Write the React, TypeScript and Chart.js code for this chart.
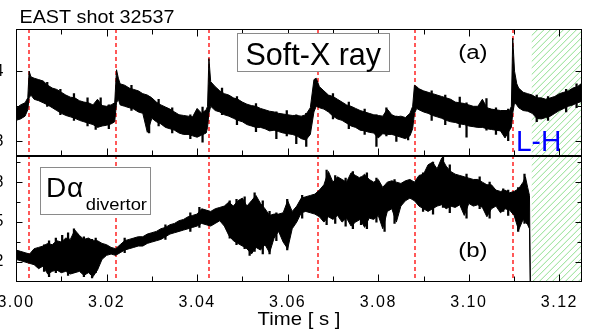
import React, { useEffect, useRef } from 'react';
import { Chart, registerables } from 'chart.js';
Chart.register(...registerables);

// ---- Soft-X ray (panel a): time [s], upper / lower envelope of the noisy trace
const sxT = [3.0000,3.0010,3.0020,3.0026,3.0029,3.0033,3.0040,3.0050,3.0060,3.0070,3.0080,3.0090,3.0100,3.0110,3.0120,3.0130,3.0140,3.0150,3.0160,3.0170,3.0180,3.0190,3.0200,3.0210,3.0218,3.0222,3.0226,3.0230,3.0240,3.0250,3.0260,3.0270,3.0280,3.0290,3.0300,3.0310,3.0320,3.0330,3.0340,3.0350,3.0360,3.0370,3.0380,3.0390,3.0400,3.0410,3.0420,3.0423,3.0426,3.0430,3.0440,3.0450,3.0460,3.0470,3.0480,3.0490,3.0500,3.0510,3.0520,3.0530,3.0540,3.0550,3.0560,3.0570,3.0580,3.0590,3.0600,3.0610,3.0620,3.0630,3.0640,3.0650,3.0658,3.0663,3.0670,3.0680,3.0690,3.0700,3.0710,3.0720,3.0730,3.0740,3.0750,3.0760,3.0770,3.0780,3.0790,3.0800,3.0810,3.0820,3.0830,3.0840,3.0850,3.0860,3.0870,3.0876,3.0880,3.0885,3.0890,3.0900,3.0910,3.0920,3.0930,3.0940,3.0950,3.0960,3.0970,3.0980,3.0990,3.1000,3.1010,3.1020,3.1030,3.1040,3.1050,3.1060,3.1070,3.1080,3.1090,3.1094,3.1097,3.1101,3.1106,3.1110,3.1120,3.1130,3.1140,3.1150,3.1160,3.1170,3.1180,3.1190,3.1200,3.1210,3.1220,3.1230,3.1240,3.1250];
const sxHi = [3.47,3.52,3.55,3.62,4.00,3.92,3.90,3.88,3.86,3.80,3.76,3.74,3.70,3.66,3.63,3.62,3.58,3.56,3.55,3.52,3.60,3.51,3.50,3.52,3.55,4.02,3.90,3.82,3.80,3.76,3.74,3.72,3.68,3.66,3.62,3.56,3.52,3.49,3.46,3.42,3.38,3.37,3.36,3.35,3.47,3.40,3.45,3.50,4.18,3.85,3.78,3.72,3.68,3.66,3.62,3.60,3.56,3.53,3.51,3.50,3.47,3.45,3.43,3.42,3.40,3.39,3.38,3.37,3.37,3.36,3.38,3.48,3.88,3.90,3.78,3.72,3.66,3.64,3.60,3.56,3.52,3.50,3.47,3.44,3.42,3.40,3.38,3.37,3.36,3.46,3.38,3.35,3.36,3.34,3.40,3.50,3.80,3.78,3.75,3.72,3.70,3.68,3.66,3.64,3.62,3.60,3.56,3.55,3.54,3.52,3.50,3.50,3.60,3.48,3.46,3.45,3.44,3.44,3.44,3.50,4.47,4.00,3.82,3.76,3.70,3.68,3.66,3.62,3.62,3.60,3.62,3.64,3.68,3.70,3.72,3.76,3.78,3.83];
const sxLo = [3.30,3.32,3.36,3.45,3.62,3.66,3.60,3.58,3.55,3.52,3.48,3.44,3.40,3.37,3.35,3.33,3.30,3.28,3.26,3.24,3.20,3.22,3.23,3.25,3.28,3.55,3.60,3.52,3.50,3.48,3.46,3.42,3.40,3.13,3.33,3.28,3.25,3.20,3.18,3.16,3.12,3.10,3.10,3.08,3.06,3.09,3.12,3.20,3.40,3.50,3.44,3.42,3.38,3.36,3.33,3.30,3.28,3.24,3.22,3.20,3.20,3.18,3.15,3.16,3.14,3.12,3.11,3.10,3.08,3.04,3.02,3.10,3.42,3.50,3.48,3.46,3.42,3.36,3.32,3.30,3.26,3.22,3.20,3.16,3.15,3.13,3.12,3.05,3.11,3.10,3.10,3.08,3.06,3.04,3.08,3.18,3.40,3.47,3.45,3.42,3.40,3.37,3.35,3.33,3.30,3.28,3.27,3.25,3.24,3.22,3.21,3.20,3.20,3.18,3.17,3.16,3.15,3.05,3.16,3.20,3.40,3.55,3.52,3.48,3.44,3.43,3.40,3.33,3.32,3.34,3.36,3.40,3.44,3.47,3.50,3.52,3.55,3.57];
// isolated noise needles of the Soft-X trace: time, lower end, upper end
const sxNeedleT = [3.0069,3.0098,3.0128,3.0158,3.0176,3.0187,3.0205,3.0255,3.0294,3.0315,3.0345,3.0385,3.0412,3.0455,3.0488,3.0530,3.0575,3.0598,3.0619,3.0641,3.0700,3.0735,3.0770,3.0796,3.0818,3.0840,3.0866,3.0918,3.0948,3.0980,3.0995,3.1039,3.1060,3.1087,3.1150,3.1175,3.1215,3.1238];
const sxNeedleLo = [3.50,3.38,3.30,3.22,3.17,3.22,3.18,3.44,3.12,3.22,3.12,3.04,2.99,3.38,3.24,3.14,3.04,3.08,2.97,2.93,3.32,3.18,3.10,2.93,3.08,3.00,3.02,3.30,3.24,3.20,3.06,3.16,3.10,3.01,3.28,3.30,3.42,3.48];
const sxNeedleHi = [3.84,3.74,3.68,3.62,3.50,3.62,3.52,3.80,3.64,3.60,3.48,3.38,3.49,3.76,3.64,3.54,3.42,3.44,3.38,3.40,3.68,3.56,3.46,3.38,3.48,3.36,3.36,3.72,3.66,3.63,3.55,3.61,3.48,3.46,3.66,3.64,3.74,3.82];

// ---- D-alpha divertor (panel b)
const daT = [3.000,3.001,3.002,3.003,3.004,3.005,3.006,3.007,3.008,3.009,3.010,3.011,3.012,3.013,3.014,3.015,3.016,3.017,3.018,3.019,3.020,3.021,3.022,3.023,3.024,3.025,3.026,3.027,3.028,3.029,3.030,3.031,3.032,3.033,3.034,3.035,3.036,3.037,3.038,3.039,3.040,3.041,3.042,3.043,3.044,3.045,3.046,3.047,3.048,3.049,3.050,3.051,3.052,3.053,3.054,3.055,3.056,3.057,3.058,3.059,3.060,3.061,3.062,3.063,3.064,3.065,3.066,3.067,3.068,3.069,3.070,3.071,3.072,3.073,3.074,3.075,3.076,3.077,3.078,3.079,3.080,3.081,3.082,3.083,3.084,3.085,3.086,3.087,3.088,3.089,3.090,3.091,3.092,3.093,3.094,3.095,3.096,3.097,3.098,3.099,3.100,3.101,3.102,3.103,3.104,3.105,3.106,3.107,3.108,3.109,3.110,3.111,3.112,3.1125,3.113,3.1134,3.1136];
const daHi = [0.29,0.28,0.27,0.26,0.30,0.31,0.32,0.34,0.33,0.36,0.35,0.38,0.37,0.44,0.40,0.37,0.38,0.36,0.36,0.34,0.33,0.31,0.30,0.33,0.36,0.37,0.38,0.39,0.39,0.41,0.42,0.43,0.45,0.46,0.48,0.49,0.51,0.52,0.54,0.55,0.56,0.60,0.59,0.58,0.60,0.61,0.62,0.65,0.62,0.66,0.68,0.62,0.66,0.70,0.64,0.60,0.55,0.56,0.56,0.57,0.66,0.58,0.62,0.68,0.69,0.70,0.71,0.74,0.78,0.88,0.80,0.84,0.82,0.80,0.87,0.85,0.83,0.86,0.82,0.80,0.82,0.76,0.80,0.81,0.80,0.79,0.81,0.82,0.80,0.85,0.86,0.93,0.95,0.90,0.98,0.92,0.88,0.86,0.85,0.84,0.83,0.82,0.82,0.80,0.78,0.78,0.74,0.73,0.74,0.72,0.73,0.75,0.80,0.84,0.76,0.70,0.00];
const daLo = [0.22,0.21,0.20,0.19,0.18,0.15,0.17,0.11,0.13,0.14,0.12,0.13,0.11,0.12,0.13,0.10,0.12,0.09,0.14,0.22,0.25,0.26,0.25,0.27,0.29,0.30,0.31,0.32,0.32,0.34,0.35,0.36,0.37,0.39,0.41,0.42,0.43,0.44,0.45,0.46,0.47,0.49,0.48,0.47,0.49,0.51,0.47,0.40,0.36,0.34,0.32,0.30,0.26,0.31,0.29,0.33,0.27,0.38,0.43,0.35,0.30,0.45,0.50,0.57,0.58,0.57,0.56,0.54,0.50,0.54,0.52,0.55,0.50,0.53,0.47,0.50,0.52,0.46,0.53,0.52,0.55,0.45,0.58,0.60,0.50,0.62,0.66,0.68,0.66,0.62,0.60,0.58,0.60,0.62,0.63,0.60,0.62,0.61,0.63,0.55,0.64,0.62,0.63,0.61,0.54,0.60,0.62,0.57,0.60,0.59,0.55,0.44,0.52,0.50,0.48,0.45,0.00];
// isolated noise needles of the D-alpha trace
const daNeedleT = [3.0062,3.0073,3.0088,3.0102,3.0115,3.0128,3.0135,3.0150,3.0168,3.0176,3.0240,3.0330,3.0385,3.0405,3.0472,3.0487,3.0505,3.0516,3.0527,3.0545,3.0560,3.0575,3.0599,3.0632,3.0686,3.0705,3.0728,3.0744,3.0762,3.0775,3.0796,3.0814,3.0836,3.0899,3.0921,3.0943,3.0958,3.0995,3.1024,3.1046,3.1076,3.1087,3.1109,3.1123];
const daNeedleLo = [0.13,0.09,0.12,0.13,0.10,0.12,0.14,0.09,0.08,0.12,0.27,0.37,0.43,0.46,0.38,0.33,0.30,0.25,0.28,0.26,0.26,0.36,0.29,0.53,0.48,0.49,0.47,0.45,0.48,0.45,0.50,0.43,0.49,0.58,0.56,0.61,0.57,0.53,0.60,0.53,0.58,0.55,0.43,0.49];
const daNeedleHi = [0.33,0.36,0.38,0.40,0.42,0.45,0.41,0.39,0.37,0.38,0.38,0.48,0.57,0.61,0.66,0.67,0.69,0.62,0.72,0.66,0.58,0.57,0.67,0.70,0.89,0.85,0.83,0.88,0.84,0.87,0.83,0.77,0.82,0.87,0.95,0.99,0.93,0.86,0.84,0.80,0.75,0.74,0.76,0.86];

// ---- axes
const xMin = 3.0, xMax = 3.125;
const xTicks = [3.0, 3.02, 3.04, 3.06, 3.08, 3.1, 3.12];
const xTickLabels = ['3.00', '3.02', '3.04', '3.06', '3.08', '3.10', '3.12'];
const xMinor = [3.01, 3.03, 3.05, 3.07, 3.09, 3.11];
const xTitle = 'Time [ s ]';
const sxMin = 2.8, sxMax = 4.6;
const sxTicks = [3, 4];
const sxTickLabels = ['3', '4'];
const sxMinor = [3.5];
const daMin = 0.05, daMax = 1.0;
const daTicks = [0.2, 0.5, 0.8];
const daTickLabels = ['0.2', '0.5', '0.8'];
const daMinor = [0.35, 0.65, 0.95];

// ---- annotations
const eventTimes = [3.0028, 3.0221, 3.0426, 3.0666, 3.0882, 3.1097];
const lhStart = 3.1139;

const FONT = "'Liberation Sans', Arial, Helvetica, sans-serif";

function drawText(ctx: any, s: string, x: number, y: number, size: number, color = '#000', align: CanvasTextAlign = 'left', sx = 1) {
  ctx.save();
  ctx.letterSpacing = '0px';
  ctx.font = `${size}px ${FONT}`;
  ctx.fillStyle = color;
  ctx.textAlign = align;
  ctx.textBaseline = 'alphabetic';
  ctx.translate(x, y);
  ctx.scale(sx, 1);
  ctx.fillText(s, 0, 0);
  ctx.restore();
}

const decor = {
  id: 'decor',
  beforeDraw(chart: any) {
    // tick labels of the original are widely spaced
    chart.ctx.letterSpacing = '1.5px';
  },
  afterDraw(chart: any) {
    chart.ctx.letterSpacing = '0px';
  },
  beforeDatasetsDraw(chart: any) {
    const { ctx, chartArea: ca, scales } = chart;
    const x = scales.x;
    // hatched L-H region
    const hx0 = x.getPixelForValue(lhStart);
    ctx.save();
    ctx.beginPath();
    ctx.rect(hx0, ca.top, ca.right - hx0, ca.bottom - ca.top);
    ctx.clip();
    ctx.strokeStyle = '#8fdf8f';
    ctx.lineWidth = 1;
    const h = ca.bottom - ca.top;
    ctx.beginPath();
    for (let s = hx0 - h; s < ca.right + 2; s += 6.5) {
      ctx.moveTo(s, ca.bottom);
      ctx.lineTo(s + h, ca.top);
    }
    ctx.stroke();
    ctx.restore();
    // dashed red event lines
    ctx.save();
    ctx.strokeStyle = '#ff3030';
    ctx.lineWidth = 1.6;
    ctx.setLineDash([4, 3]);
    for (const t of eventTimes) {
      const px = Math.round(x.getPixelForValue(t));
      ctx.beginPath();
      ctx.moveTo(px, ca.top);
      ctx.lineTo(px, ca.bottom);
      ctx.stroke();
    }
    ctx.restore();
  },
  afterDatasetsDraw(chart: any) {
    const { ctx, chartArea: ca, scales } = chart;
    const x = scales.x, y1 = scales.y1, y2 = scales.y2;
    const L = Math.round(ca.left) + 0.5, R = Math.round(ca.right) - 0.5;
    ctx.save();
    ctx.strokeStyle = '#000';
    ctx.lineWidth = 1;
    const panels = [
      { s: y1, major: sxTicks, minor: sxMinor, top: true },
      { s: y2, major: daTicks, minor: daMinor, top: false },
    ];
    for (const p of panels) {
      const T = Math.round(p.s.top) + 0.5, B = Math.round(p.s.bottom) - 0.5;
      ctx.strokeRect(L, T, R - L, B - T);
      ctx.beginPath();
      const yt = (v: number, len: number) => {
        const py = Math.round(p.s.getPixelForValue(v)) + 0.5;
        ctx.moveTo(L, py); ctx.lineTo(L + len, py);
        ctx.moveTo(R, py); ctx.lineTo(R - len, py);
      };
      p.major.forEach((v) => yt(v, 6));
      p.minor.forEach((v) => yt(v, 4));
      const xt = (v: number, len: number) => {
        const px = Math.round(x.getPixelForValue(v)) + 0.5;
        ctx.moveTo(px, B); ctx.lineTo(px, B - len);
        if (p.top) { ctx.moveTo(px, T); ctx.lineTo(px, T + len); }
      };
      xTicks.forEach((v) => xt(v, 7));
      xMinor.forEach((v) => xt(v, 5));
      ctx.stroke();
    }
    ctx.restore();

    // x axis title
    drawText(ctx, xTitle, (ca.left + ca.right) / 2, ca.bottom + 43, 19, '#000', 'center', 1.07);

    // shot title
    drawText(ctx, 'EAST shot 32537', ca.left + 3.5, ca.top - 6.5, 19, '#000', 'left', 1.04);

    // Soft-X ray box
    const bx0 = x.getPixelForValue(3.0489), bx1 = x.getPixelForValue(3.0824);
    const by0 = y1.getPixelForValue(4.54), by1 = y1.getPixelForValue(4.0);
    ctx.save();
    ctx.fillStyle = '#fff';
    ctx.strokeStyle = '#8a8a8a';
    ctx.lineWidth = 1;
    ctx.fillRect(bx0, by0, bx1 - bx0, by1 - by0);
    ctx.strokeRect(Math.round(bx0) + 0.5, Math.round(by0) + 0.5, Math.round(bx1 - bx0), Math.round(by1 - by0));
    ctx.restore();
    drawText(ctx, 'Soft-X ray', (bx0 + bx1) / 2, y1.getPixelForValue(4.086), 30.5, '#000', 'center');

    // (a)
    drawText(ctx, '(a)', x.getPixelForValue(3.1009), y1.getPixelForValue(4.173), 20, '#000', 'center', 1.2);
    // L-H
    drawText(ctx, 'L-H', x.getPixelForValue(3.1104), y1.getPixelForValue(2.871), 29, '#0000ff', 'left', 0.97);

    // D-alpha box
    const cx0 = x.getPixelForValue(3.0053), cx1 = x.getPixelForValue(3.0297);
    const cy0 = y2.getPixelForValue(0.913), cy1 = y2.getPixelForValue(0.559);
    ctx.save();
    ctx.fillStyle = '#fff';
    ctx.strokeStyle = '#8a8a8a';
    ctx.lineWidth = 1;
    ctx.fillRect(cx0, cy0, cx1 - cx0, cy1 - cy0);
    ctx.strokeRect(Math.round(cx0) + 0.5, Math.round(cy0) + 0.5, Math.round(cx1 - cx0), Math.round(cy1 - cy0));
    ctx.restore();
    const dX = x.getPixelForValue(3.0066), dY = y2.getPixelForValue(0.688);
    ctx.save();
    ctx.letterSpacing = '0px';
    ctx.font = `28px ${FONT}`;
    const dW = ctx.measureText('D').width;
    ctx.restore();
    drawText(ctx, 'D', dX, dY, 28);
    drawText(ctx, 'α', dX + dW + 1, dY, 28);
    drawText(ctx, 'divertor', x.getPixelForValue(3.0154), y2.getPixelForValue(0.593), 17, '#000', 'left', 1.08);

    // (b)
    drawText(ctx, '(b)', x.getPixelForValue(3.1009), y2.getPixelForValue(0.24), 20, '#000', 'center', 1.2);
  },
};

export default function App() {
  const ref = useRef<HTMLCanvasElement | null>(null);
  useEffect(() => {
    if (!ref.current) return;
    const mk = (t: number[], v: number[]) => t.map((tt, i) => ({ x: tt, y: v[i] }));
    const mkBar = (t: number[], lo: number[], hi: number[]) => t.map((tt, i) => ({ x: tt, y: [lo[i], hi[i]] }));
    const line = { type: 'line', borderColor: '#000', borderWidth: 1, pointRadius: 0, tension: 0 };
    const needle = { type: 'bar', backgroundColor: '#000', borderWidth: 0, barThickness: 1.6, grouped: false };
    const tickFont = { family: FONT, size: 16 };
    const chart = new Chart(ref.current, {
      type: 'line',
      data: {
        datasets: [
          { ...line, label: 'Soft-X ray upper', data: mk(sxT, sxHi), yAxisID: 'y1', fill: false },
          { ...line, label: 'Soft-X ray lower', data: mk(sxT, sxLo), yAxisID: 'y1', fill: '-1', backgroundColor: '#000' },
          { ...line, label: 'Dα upper', data: mk(daT, daHi), yAxisID: 'y2', fill: false },
          { ...line, label: 'Dα lower', data: mk(daT, daLo), yAxisID: 'y2', fill: '-1', backgroundColor: '#000' },
          { ...needle, label: 'Soft-X ray needles', data: mkBar(sxNeedleT, sxNeedleLo, sxNeedleHi), yAxisID: 'y1' },
          { ...needle, label: 'Dα needles', data: mkBar(daNeedleT, daNeedleLo, daNeedleHi), yAxisID: 'y2' },
        ],
      } as any,
      options: {
        animation: false,
        responsive: true,
        maintainAspectRatio: false,
        layout: { padding: { top: 29, right: 7, left: 0, bottom: 0 } },
        plugins: { legend: { display: false }, tooltip: { enabled: false } },
        scales: {
          x: {
            type: 'linear', min: xMin, max: xMax, offset: false,
            grid: { display: false, drawTicks: false, offset: false }, border: { display: false },
            afterBuildTicks: (s: any) => { s.ticks = xTicks.map((value) => ({ value })); },
            afterFit: (s: any) => { s.height = 50; },
            ticks: { autoSkip: false, maxRotation: 0, padding: 11, color: '#000', font: tickFont, callback: (_v: any, i: number) => xTickLabels[i] },
          },
          y2: {
            type: 'linear', position: 'left', stack: 'panels', stackWeight: 1, min: daMin, max: daMax,
            grid: { display: false, drawTicks: false }, border: { display: false },
            afterBuildTicks: (s: any) => { s.ticks = daTicks.map((value) => ({ value })); },
            afterFit: (s: any) => { s.width = 50; },
            ticks: { padding: 11, color: '#000', font: tickFont, callback: (_v: any, i: number) => daTickLabels[i] },
          },
          y1: {
            type: 'linear', position: 'left', stack: 'panels', stackWeight: 1, min: sxMin, max: sxMax,
            grid: { display: false, drawTicks: false }, border: { display: false },
            afterBuildTicks: (s: any) => { s.ticks = sxTicks.map((value) => ({ value })); },
            afterFit: (s: any) => { s.width = 50; },
            ticks: { padding: 11, color: '#000', font: tickFont, callback: (_v: any, i: number) => sxTickLabels[i] },
          },
        },
      } as any,
      plugins: [decor],
    });
    return () => chart.destroy();
  }, []);
  return (
    <div style={{ position: 'fixed', left: -34, top: 0, width: 623, height: 332, background: '#fff' }}>
      <canvas ref={ref} />
    </div>
  );
}
